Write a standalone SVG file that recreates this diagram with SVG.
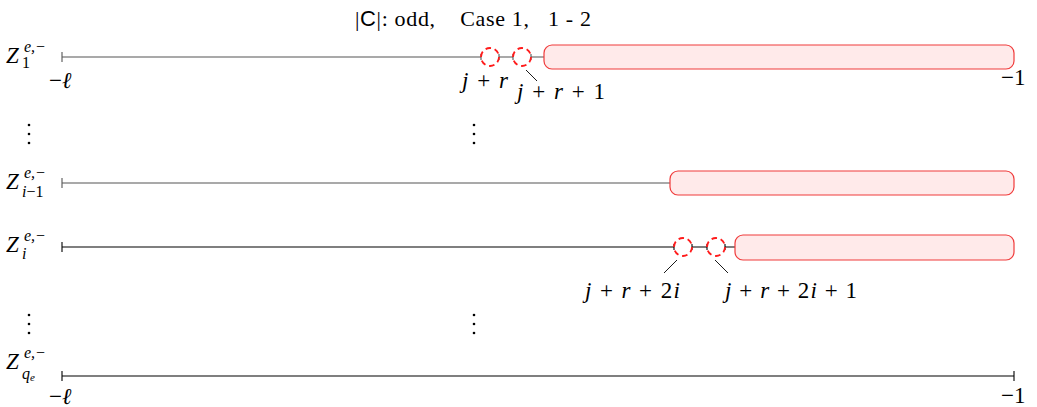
<svg xmlns="http://www.w3.org/2000/svg" width="1037" height="407" viewBox="0 0 1037 407">
<style>
.t{font-family:"Liberation Serif","DejaVu Serif",serif;font-size:23px;fill:#000}
.ttl{font-size:22px}
.i{font-style:italic}
.z{font-size:23px}
.s{font-size:16px}
.ss{font-size:11px}
.sans{font-family:"Liberation Sans","DejaVu Sans",sans-serif}
.ln{stroke:#000;stroke-width:1.1;fill:none}
.gr{stroke:#555}
.dc{stroke:#ff1a1a;stroke-width:1.8;fill:none;stroke-dasharray:5.6 3.8}
.bar{fill:#ffeaea;stroke:#f03a3a;stroke-width:1.2}
.ld{stroke:#000;stroke-width:0.9}
.dot{fill:#000}
</style>
<text class="t ttl" x="355" y="26" textLength="236" lengthAdjust="spacing" xml:space="preserve">|<tspan class="sans">C</tspan>|: odd,    Case 1,   1 - 2</text>

<g id="row1">
<text class="t i z" x="6" y="63">Z</text><text class="t i s" x="24" y="52">e,−</text><text class="t s" x="22" y="68">1</text>
</g>
<g id="row3">
<text class="t i z" x="6" y="189">Z</text><text class="t i s" x="24" y="178">e,−</text><text class="t s" x="22" y="197"><tspan class="i">i</tspan>−1</text>
</g>
<g id="row4">
<text class="t i z" x="6" y="252">Z</text><text class="t i s" x="24" y="241">e,−</text><text class="t i s" x="22" y="259">i</text>
</g>
<g id="row6">
<text class="t i z" x="6" y="369">Z</text><text class="t i s" x="24" y="358">e,−</text><text class="t i s" x="22" y="379">q<tspan class="ss" dy="2">e</tspan></text>
</g>

<g id="connectors">
<path class="ln gr" d="M62 57H481M62 52V62M481 54V60M499 57H513M499 54V60M513 54V60M531 57H544M531 54V60"/>
<path class="ln gr" d="M62 183H670M62 178V188"/>
<path class="ln" d="M62 247H674M62 242V252M674 244V250M692 247H707M692 244V250M707 244V250M725 247H735M725 244V250"/>
<path class="ln" d="M62 376H1014M62 371V381M1014 371V381"/>
<path class="ld" d="M526 70L537 81M677 260L664 273M715 260L728 273"/>
</g>

<g id="bars">
<rect class="bar" x="544" y="45" width="470" height="24" rx="8"/>
<rect class="bar" x="670" y="171" width="344" height="24" rx="8"/>
<rect class="bar" x="735" y="235" width="279" height="25" rx="8"/>
</g>

<g id="circles">
<circle class="dc" cx="490" cy="57" r="9"/>
<circle class="dc" cx="522" cy="57" r="9"/>
<circle class="dc" cx="683" cy="247" r="9"/>
<circle class="dc" cx="716" cy="247" r="9"/>
</g>

<g id="labels">
<text class="t" x="49" y="88">−<tspan class="i">ℓ</tspan></text>
<text class="t" x="1001" y="85">−1</text>
<text class="t" x="49" y="404">−<tspan class="i">ℓ</tspan></text>
<text class="t" x="1001" y="403">−1</text>
<text class="t" x="462" y="88" textLength="46" lengthAdjust="spacing" xml:space="preserve"><tspan class="i">j</tspan> + <tspan class="i">r</tspan></text>
<text class="t" x="517" y="99" textLength="88" lengthAdjust="spacing" xml:space="preserve"><tspan class="i">j</tspan> + <tspan class="i">r</tspan> + 1</text>
<text class="t" x="585" y="298" textLength="95" lengthAdjust="spacing" xml:space="preserve"><tspan class="i">j</tspan> + <tspan class="i">r</tspan> + 2<tspan class="i">i</tspan></text>
<text class="t" x="725" y="298" textLength="132" lengthAdjust="spacing" xml:space="preserve"><tspan class="i">j</tspan> + <tspan class="i">r</tspan> + 2<tspan class="i">i</tspan> + 1</text>
</g>

<g id="dots">
<circle class="dot" cx="29" cy="125" r="1.3"/><circle class="dot" cx="29" cy="134" r="1.3"/><circle class="dot" cx="29" cy="143" r="1.3"/>
<circle class="dot" cx="474" cy="125" r="1.3"/><circle class="dot" cx="474" cy="134" r="1.3"/><circle class="dot" cx="474" cy="143" r="1.3"/>
<circle class="dot" cx="29" cy="315" r="1.3"/><circle class="dot" cx="29" cy="324" r="1.3"/><circle class="dot" cx="29" cy="333" r="1.3"/>
<circle class="dot" cx="474" cy="315" r="1.3"/><circle class="dot" cx="474" cy="324" r="1.3"/><circle class="dot" cx="474" cy="333" r="1.3"/>
</g>
</svg>
